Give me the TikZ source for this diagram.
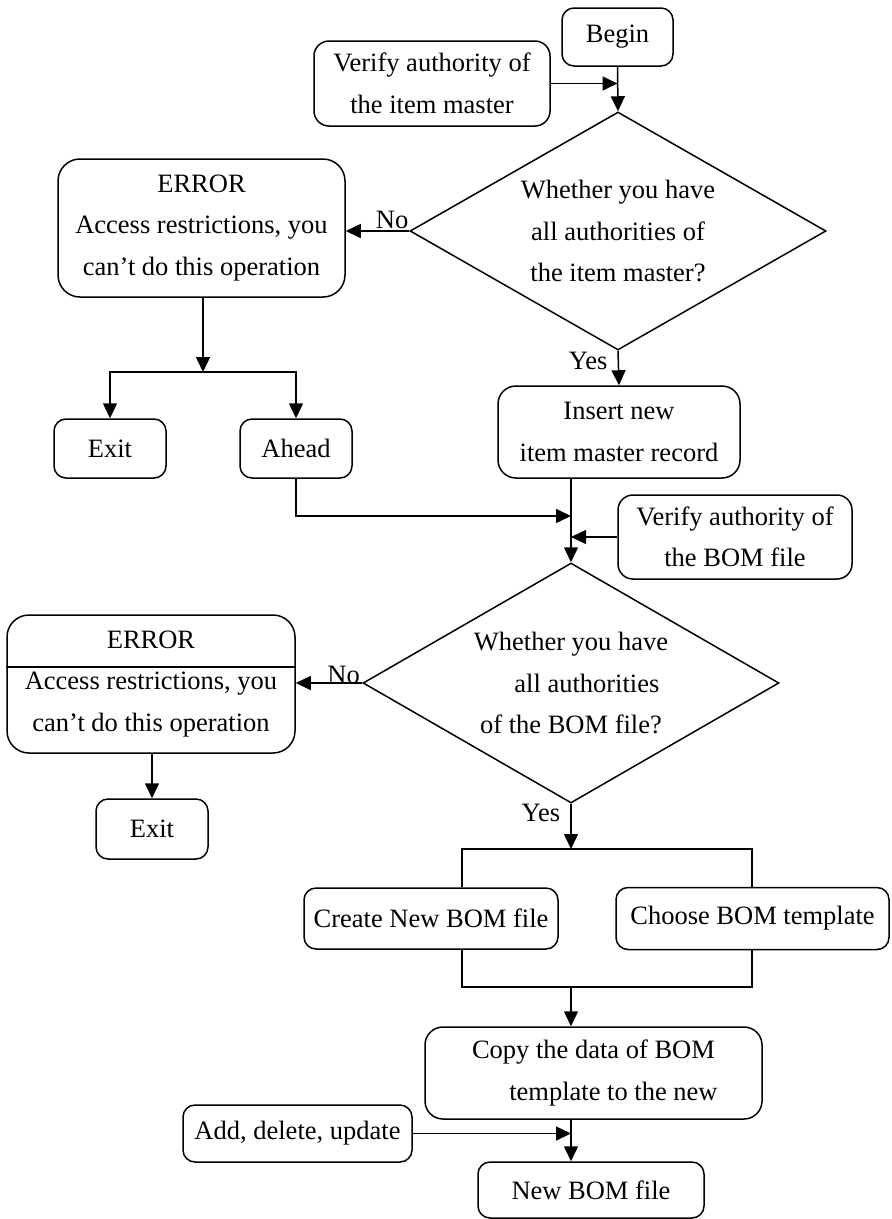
\documentclass[tikz,border=0pt]{standalone}
\usepackage{fontspec}
\setmainfont{Liberation Serif}
\usetikzlibrary{positioning, arrows.meta, calc, shapes.geometric}

\begin{document}
\begin{tikzpicture}[x=1pt, y=-1pt,
    font=\fontsize{26.5}{41.5}\selectfont,
    line width=1.5pt,
    box/.style={draw, rounded corners=12pt, align=center, inner sep=0pt},
    errbox/.style={box, rounded corners=22pt},
    decide/.style={draw, diamond, aspect=1.75, align=center, inner sep=0pt},
    arr/.style={-{Triangle[length=15pt, width=14pt]}},
    lbl/.style={inner sep=1pt}]
  \useasboundingbox (0,0) rectangle (892,1219);

  % first check: item master
  \node[box, minimum width=111pt, minimum height=58pt] (begin) at (617.5,37) {Begin};
  \node[box, rounded corners=15pt, minimum width=236pt, minimum height=85pt] (verifyitem) at (432,83.5)
    {Verify authority of\\the item master};
  \node[decide, minimum width=416pt, minimum height=238pt] (askitem) at (618,231)
    {Whether you have\\all authorities of\\the item master?};
  \node[errbox, minimum width=287pt, minimum height=138pt] (erritem) at (201.5,228)
    {ERROR\\Access restrictions, you\\can’t do this operation};
  \node[box, minimum width=112pt, minimum height=59pt] (exititem) at (110,448.5) {Exit};
  \node[box, minimum width=112pt, minimum height=59pt] (ahead) at (296,448.5) {Ahead};
  \node[box, rounded corners=18pt, minimum width=242pt, minimum height=92pt] (insert) at (619,432)
    {Insert new\\item master record};

  % second check: BOM file
  \node[box, rounded corners=15pt, minimum width=234pt, minimum height=84pt] (verifybom) at (735,537)
    {Verify authority of\\the BOM file};
  \node[decide, minimum width=416pt, minimum height=240pt] (askbom) at (571,683)
    {Whether you have\\\hspace*{1.2em}all authorities\\of the BOM file?};
  \node[errbox, minimum width=288pt, minimum height=138pt] (errbom) at (151,684)
    {ERROR\\Access restrictions, you\\can’t do this operation};
  \node[box, minimum width=112pt, minimum height=60pt] (exitbom) at (152,829) {Exit};

  % building the new file
  \node[box, minimum width=254pt, minimum height=61pt] (create) at (431,918.5) {Create New BOM file};
  \node[box, minimum width=273pt, minimum height=62pt] (choose) at (752.5,918.5) {Choose BOM template};
  \node[box, rounded corners=18pt, minimum width=337pt, minimum height=92pt] (copy) at (593.5,1073)
    {Copy the data of BOM\\\hspace*{1.5em}template to the new};
  \node[box, minimum width=229pt, minimum height=57pt] (edit) at (297.5,1133.5) {Add, delete, update};
  \node[box, minimum width=226pt, minimum height=56pt] (newbom) at (591,1190) {New BOM file};

  \coordinate (split) at (203,372);
  \coordinate (joinA) at (571,516);
  \coordinate (forkL) at (462,849);
  \coordinate (forkR) at (752,849);
  \coordinate (mergeL) at (462,987);
  \coordinate (mergeR) at (752,987);
  \coordinate (main) at (571,987);

  % connectors
  \draw[arr] (begin.south) -- (askitem.north);
  \draw[arr] (verifyitem.east) -- (verifyitem.east -| begin.south);
  \draw[arr] (askitem.west) -- node[lbl, pos=0.27, above] {No} (askitem.west -| erritem.east);
  \draw[arr] (erritem.south -| split) -- (split);
  \draw[arr] (split) -| (exititem.north);
  \draw[arr] (split) -| (ahead.north);
  \draw[arr] (askitem.south) -- node[lbl, pos=0.3, left=9pt] {Yes} (insert.north);
  \draw[arr] (ahead.south) |- (joinA);
  \draw[arr] (insert.south -| askbom.north) -- (askbom.north);
  \draw[arr] (verifybom.west) -- (verifybom.west -| askbom.north);

  \draw ($(errbom.north west)!0.377!(errbom.south west)$) -- ($(errbom.north east)!0.377!(errbom.south east)$);
  \draw[arr] (askbom.west) -- node[lbl, pos=0.28, above, yshift=-2pt] {No} (askbom.west -| errbom.east);
  \draw[arr] (exitbom.north |- errbom.south) -- (exitbom.north);
  \draw[arr] (askbom.south) -- node[lbl, pos=0.2, left=9pt] {Yes} (askbom.south |- forkL);

  \draw (forkL |- create.north) -- (forkL) -- (forkR) -- (forkR |- choose.north);
  \draw (mergeL |- create.south) -- (mergeL) -- (mergeR) -- (mergeR |- choose.south);
  \draw[arr] (main) -- (main |- copy.north);
  \draw[arr] (copy.south -| main) -- (newbom.north -| main);
  \draw[arr] (edit.east) -- (edit.east -| main);
\end{tikzpicture}
\end{document}
